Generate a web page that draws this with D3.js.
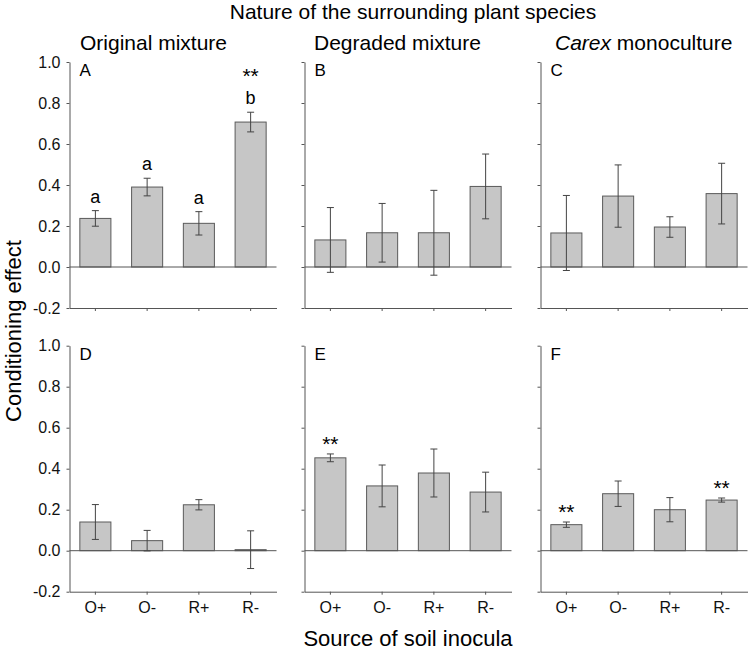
<!DOCTYPE html>
<html>
<head>
<meta charset="utf-8">
<script src="https://cdn.jsdelivr.net/npm/d3@7"></script>
<style>
  body { margin: 0; background: #fff; }
  svg { font-family: "Liberation Sans", Arial, sans-serif; }
</style>
</head>
<body>
<div id="chart"></div>
<script>
// inoculum sources on the x axis
const inocula = ["O+", "O-", "R+", "R-"];
const columnTitles = ["Original mixture", "Degraded mixture", "monoculture"];
const panelLetters = ["A", "B", "C", "D", "E", "F"];
const yTicks = [-0.2, 0.0, 0.2, 0.4, 0.6, 0.8, 1.0];

// mean conditioning effect and error per panel
const meanA = [0.237, 0.390, 0.213, 0.707];
const errA  = [0.038, 0.043, 0.057, 0.048];
const meanB = [0.132, 0.167, 0.167, 0.393];
const errB  = [0.158, 0.143, 0.207, 0.158];
const meanC = [0.166, 0.346, 0.195, 0.358];
const errC  = [0.183, 0.152, 0.050, 0.148];
const meanD = [0.140, 0.049, 0.224, 0.005];
const errD  = [0.085, 0.050, 0.025, 0.092];
const meanE = [0.453, 0.316, 0.379, 0.286];
const errE  = [0.019, 0.102, 0.117, 0.097];
const meanF = [0.127, 0.278, 0.200, 0.247];
const errF  = [0.013, 0.062, 0.059, 0.010];

// letters and significance stars above bars
const lettersA = ["a", "a", "a", "b"];
const starsA = ["", "", "", "**"];
const starsE = ["**", "", "", ""];
const starsF = ["**", "", "", "**"];

const panels = [
  {mean: meanA, err: errA, letters: lettersA, stars: starsA},
  {mean: meanB, err: errB},
  {mean: meanC, err: errC},
  {mean: meanD, err: errD},
  {mean: meanE, err: errE, stars: starsE},
  {mean: meanF, err: errF, stars: starsF}
];

const W = 750, H = 652;
const colX = [69.5, 304.5, 540.5];
const rowY = [62, 345.7];
const pw = 207, ph = 246;
const axisColor = "#555";

const svg = d3.select("#chart").append("svg")
  .attr("width", W)
  .attr("height", H);

const fmt = d => d3.format(".1f")(d).replace("\u2212", "-");

panels.forEach((p, i) => {
  const col = i % 3, row = Math.floor(i / 3);
  const x0 = colX[col], y0 = rowY[row];

  const x = d3.scaleBand()
    .domain(inocula)
    .range([x0, x0 + pw])
    .paddingInner(0.4)
    .paddingOuter(0.2);
  const y = d3.scaleLinear()
    .domain([-0.2, 1.0])
    .range([y0 + ph, y0]);

  const g = svg.append("g");

  // y axis
  const yAxis = d3.axisLeft(y)
    .tickValues(yTicks)
    .tickSize(3)
    .tickSizeOuter(0)
    .tickPadding(6)
    .tickFormat(col === 0 ? fmt : "");
  const ya = g.append("g")
    .attr("transform", `translate(${x0},0)`)
    .call(yAxis);

  // x axis along the bottom
  const xAxis = d3.axisBottom(x)
    .tickSize(3)
    .tickSizeOuter(0)
    .tickPadding(7)
    .tickFormat(row === 1 ? (d => d) : "");
  const xa = g.append("g")
    .attr("transform", `translate(0,${y0 + ph})`)
    .call(xAxis);

  [ya, xa].forEach(a => {
    a.selectAll("path, line").attr("stroke", axisColor);
    a.selectAll("text")
      .attr("fill", "#111")
      .style("font-size", "16px");
  });

  // bars
  g.selectAll("rect.bar")
    .data(p.mean)
    .join("rect")
    .attr("class", "bar")
    .attr("x", (d, j) => x(inocula[j]))
    .attr("width", x.bandwidth())
    .attr("y", d => y(Math.max(d, 0)))
    .attr("height", d => Math.abs(y(d) - y(0)))
    .attr("fill", "#c6c6c6")
    .attr("stroke", "#5a5a5a")
    .attr("stroke-width", 1);

  // zero line
  g.append("line")
    .attr("x1", x0).attr("x2", x0 + pw)
    .attr("y1", y(0)).attr("y2", y(0))
    .attr("stroke", axisColor);

  // error bars
  const cap = 3.5;
  p.mean.forEach((m, j) => {
    const cx = x(inocula[j]) + x.bandwidth() / 2;
    const hi = y(m + p.err[j]), lo = y(m - p.err[j]);
    const eb = g.append("g").attr("stroke", "#444").attr("stroke-width", 1);
    eb.append("line").attr("x1", cx).attr("x2", cx).attr("y1", hi).attr("y2", lo);
    eb.append("line").attr("x1", cx - cap).attr("x2", cx + cap).attr("y1", hi).attr("y2", hi);
    eb.append("line").attr("x1", cx - cap).attr("x2", cx + cap).attr("y1", lo).attr("y2", lo);

    // text goes above the error bar; asterisks sit high in the em box
    let base = hi - 3;
    if (p.letters) {
      g.append("text")
        .attr("x", cx).attr("y", hi - 8)
        .attr("text-anchor", "middle")
        .style("font-size", "18px")
        .text(p.letters[j]);
      base = hi - 8 - 21;
    }
    if (p.stars && p.stars[j]) {
      g.append("text")
        .attr("x", cx).attr("y", base)
        .attr("text-anchor", "middle")
        .style("font-size", "21px")
        .text(p.stars[j]);
    }
  });

  // panel letter
  g.append("text")
    .attr("x", x0 + 10)
    .attr("y", y0 + 14)
    .style("font-size", "17px")
    .text(panelLetters[i]);
});

// column titles
const titleX = [80, 314, 555];
columnTitles.forEach((t, k) => {
  const tx = svg.append("text")
    .attr("x", titleX[k])
    .attr("y", 50)
    .style("font-size", "21px");
  if (k === 2) {
    tx.append("tspan").style("font-style", "italic").text("Carex");
    tx.append("tspan").text(" " + t);
  } else {
    tx.text(t);
  }
});

// main title
svg.append("text")
  .attr("x", 413)
  .attr("y", 19)
  .attr("text-anchor", "middle")
  .style("font-size", "21px")
  .text("Nature of the surrounding plant species");

// axis titles
svg.append("text")
  .attr("transform", "translate(21,331) rotate(-90)")
  .attr("text-anchor", "middle")
  .style("font-size", "22px")
  .text("Conditioning effect");

svg.append("text")
  .attr("x", 408)
  .attr("y", 646)
  .attr("text-anchor", "middle")
  .style("font-size", "22px")
  .text("Source of soil inocula");
</script>
</body>
</html>
